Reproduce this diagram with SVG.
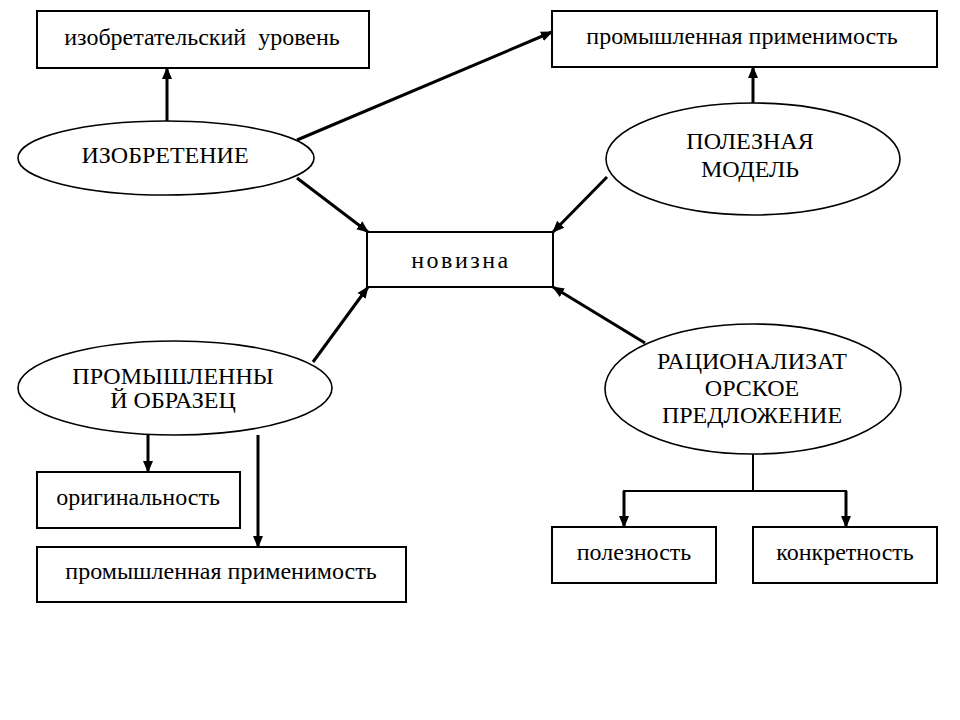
<svg xmlns="http://www.w3.org/2000/svg" width="960" height="720" viewBox="0 0 960 720">
<style>
.box{fill:#fff;stroke:#000;stroke-width:2}
.ell{fill:#fff;stroke:#000;stroke-width:1.6}
.t{font-family:"Liberation Serif","Times New Roman",serif;font-size:24px;fill:#000;text-anchor:middle;white-space:pre}
.c{stroke:#000;fill:none;stroke-width:3}
.thin{stroke:#000;fill:none;stroke-width:2}
</style>
<defs>
<marker id="ah" markerUnits="userSpaceOnUse" markerWidth="12" markerHeight="12" refX="11" refY="6" orient="auto">
<path d="M0,1 L12,6 L0,11 z" fill="#000"/>
</marker>
</defs>
<rect width="960" height="720" fill="#fff"/>
<g id="connectors">
<line class="c" x1="167" y1="123" x2="167" y2="68" marker-end="url(#ah)"/>
<line class="c" x1="297" y1="140" x2="552" y2="32" marker-end="url(#ah)"/>
<line class="c" x1="297" y1="178" x2="368" y2="232" marker-end="url(#ah)"/>
<line class="c" x1="753" y1="106" x2="753" y2="67" marker-end="url(#ah)"/>
<line class="c" x1="607" y1="177" x2="553" y2="232" marker-end="url(#ah)"/>
<line class="c" x1="313" y1="362" x2="368" y2="287" marker-end="url(#ah)"/>
<line class="c" x1="645" y1="343" x2="553" y2="287" marker-end="url(#ah)"/>
<line class="c" x1="148" y1="435" x2="148" y2="472" marker-end="url(#ah)"/>
<line class="c" x1="258" y1="435" x2="258" y2="547" marker-end="url(#ah)"/>
<line class="thin" x1="753" y1="454" x2="753" y2="491"/>
<line class="thin" x1="623" y1="491" x2="847" y2="491"/>
<line class="c" x1="624" y1="491" x2="624" y2="527" marker-end="url(#ah)"/>
<line class="c" x1="846" y1="491" x2="846" y2="527" marker-end="url(#ah)"/>
</g>
<g id="n-izobr-uroven">
<rect class="box" x="37" y="11" width="332" height="57"/>
<text class="t" x="202" y="45" xml:space="preserve">изобретательский  уровень</text>
</g>
<g id="n-izobretenie">
<ellipse class="ell" cx="166" cy="158" rx="148" ry="37"/>
<text class="t" x="165" y="163">ИЗОБРЕТЕНИЕ</text>
</g>
<g id="n-prom-prim-top">
<rect class="box" x="552" y="11" width="385" height="56"/>
<text class="t" x="742" y="44">промышленная применимость</text>
</g>
<g id="n-polez-model">
<ellipse class="ell" cx="753" cy="159" rx="147" ry="56"/>
<text class="t" x="750" y="149">ПОЛЕЗНАЯ</text>
<text class="t" x="750" y="177">МОДЕЛЬ</text>
</g>
<g id="n-novizna">
<rect class="box" x="367" y="232" width="186" height="55"/>
<text class="t" x="461" y="268" style="letter-spacing:2.5px">новизна</text>
</g>
<g id="n-prom-obrazets">
<ellipse class="ell" cx="175" cy="388" rx="157" ry="47"/>
<text class="t" x="173" y="384">ПРОМЫШЛЕННЫ</text>
<text class="t" x="173" y="408">Й ОБРАЗЕЦ</text>
</g>
<g id="n-originalnost">
<rect class="box" x="37" y="472" width="203" height="56"/>
<text class="t" x="138" y="505">оригинальность</text>
</g>
<g id="n-prom-prim-bottom">
<rect class="box" x="37" y="547" width="369" height="55"/>
<text class="t" x="221" y="579">промышленная применимость</text>
</g>
<g id="n-ratsional">
<ellipse class="ell" cx="753" cy="389" rx="148" ry="65"/>
<text class="t" x="752" y="369">РАЦИОНАЛИЗАТ</text>
<text class="t" x="752" y="396">ОРСКОЕ</text>
<text class="t" x="752" y="423">ПРЕДЛОЖЕНИЕ</text>
</g>
<g id="n-poleznost">
<rect class="box" x="552" y="527" width="164" height="56"/>
<text class="t" x="634" y="560">полезность</text>
</g>
<g id="n-konkretnost">
<rect class="box" x="753" y="527" width="184" height="56"/>
<text class="t" x="845" y="560">конкретность</text>
</g>
</svg>
